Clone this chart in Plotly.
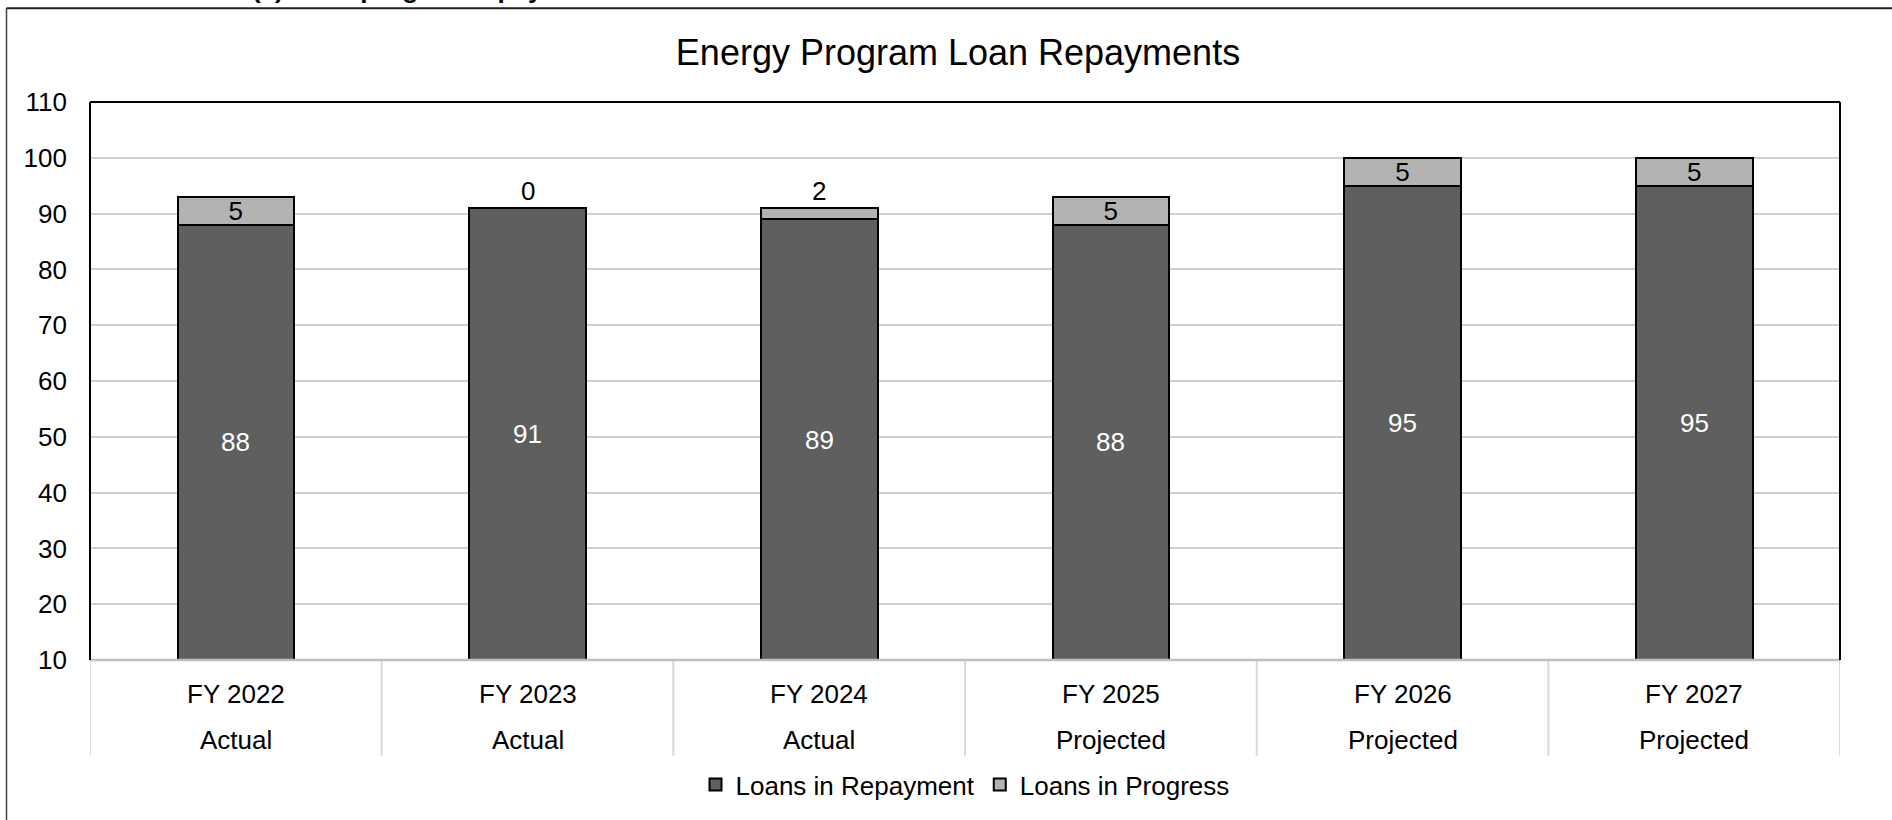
import plotly.graph_objects as go

# ---- data ----
fiscal_years = ["FY 2022", "FY 2023", "FY 2024", "FY 2025", "FY 2026", "FY 2027"]
status = ["Actual", "Actual", "Actual", "Projected", "Projected", "Projected"]
loans_in_repayment = [88, 91, 89, 88, 95, 95]
loans_in_progress = [5, 0, 2, 5, 5, 5]
y_ticks = [10, 20, 30, 40, 50, 60, 70, 80, 90, 100, 110]

W, H = 1892, 820
L, R, T, B = 90, 1840, 102, 662
FONT = "Liberation Sans, Arial, sans-serif"
Y_MIN, Y_MAX = y_ticks[0], y_ticks[-1]


def px_to_paper_y(py):
    return (B - py) / (B - T)


def px_to_paper_x(px):
    return (px - L) / (R - L)


fig = go.Figure()
fig.add_trace(go.Bar(
    x=fiscal_years, y=loans_in_repayment, name="Loans in Repayment",
    marker=dict(color="#5f5f5f", line=dict(color="#000000", width=2)),
    width=0.4, hoverinfo="x+y+name",
))
fig.add_trace(go.Bar(
    x=fiscal_years, y=loans_in_progress, name="Loans in Progress",
    marker=dict(color="#b3b3b3", line=dict(color="#000000", width=2)),
    text=[str(v) if v >= 3 else "" for v in loans_in_progress], textposition="inside",
    insidetextanchor="middle", textangle=0, constraintext="none",
    insidetextfont=dict(color="#000000", size=26, family=FONT),
    width=0.4, hoverinfo="x+y+name",
))

annotations = []
# labels of the lower segment, centred on the visible part of the bar
for fy, rep in zip(fiscal_years, loans_in_repayment):
    annotations.append(dict(x=fy, y=(Y_MIN + rep) / 2, xref="x", yref="y", text=str(rep),
                            showarrow=False, yanchor="middle",
                            font=dict(size=26, color="#ffffff", family=FONT)))
# labels for small top segments, placed above the bar
for fy, rep, prog in zip(fiscal_years, loans_in_repayment, loans_in_progress):
    if prog < 3:
        annotations.append(dict(x=fy, y=rep + prog, xref="x", yref="y", text=str(prog),
                                showarrow=False, yanchor="bottom", yshift=0,
                                font=dict(size=26, color="#000000", family=FONT)))
# two-row category labels
for fy, st in zip(fiscal_years, status):
    annotations.append(dict(x=fy, y=px_to_paper_y(696), xref="x", yref="paper", text=fy,
                            showarrow=False, yanchor="middle",
                            font=dict(size=26, color="#000000", family=FONT)))
    annotations.append(dict(x=fy, y=px_to_paper_y(742), xref="x", yref="paper", text=st,
                            showarrow=False, yanchor="middle",
                            font=dict(size=26, color="#000000", family=FONT)))
# clipped heading above the chart frame (only its lowest pixels show, as in the source)
annotations.append(dict(x=px_to_paper_x(250), y=px_to_paper_y(-11), xref="paper", yref="paper",
                        text="<b>(c) Loan program repayments</b>", showarrow=False,
                        xanchor="left", yanchor="middle",
                        font=dict(size=26, color="#000000", family=FONT)))

shapes = []
# category separators below the axis
n = len(fiscal_years)
for i in range(n + 1):
    shapes.append(dict(type="line", xref="x", yref="paper", x0=i - 0.5, x1=i - 0.5,
                       y0=0, y1=px_to_paper_y(758), line=dict(color="#d9d9d9", width=2)))
# bottom axis line (gray)
shapes.append(dict(type="line", xref="paper", yref="paper", x0=0, x1=1, y0=0, y1=0,
                   line=dict(color="#bfbfbf", width=2.5)))
# plot frame: left, top, right in black
shapes.append(dict(type="line", xref="paper", yref="paper", x0=0, x1=0, y0=0, y1=1,
                   line=dict(color="#000000", width=2)))
shapes.append(dict(type="line", xref="paper", yref="paper", x0=0, x1=1, y0=1, y1=1,
                   line=dict(color="#000000", width=2)))
shapes.append(dict(type="line", xref="paper", yref="paper", x0=1, x1=1, y0=0, y1=1,
                   line=dict(color="#000000", width=2)))
# outer chart border (extends beyond the view on right/bottom)
shapes.append(dict(type="line", xref="paper", yref="paper",
                   x0=px_to_paper_x(6.5), x1=px_to_paper_x(6.5),
                   y0=px_to_paper_y(8), y1=px_to_paper_y(900),
                   line=dict(color="#404040", width=1.5)))
shapes.append(dict(type="line", xref="paper", yref="paper",
                   x0=px_to_paper_x(6.5), x1=px_to_paper_x(2000),
                   y0=px_to_paper_y(8), y1=px_to_paper_y(8),
                   line=dict(color="#202020", width=2)))

fig.update_layout(
    width=W, height=H,
    margin=dict(l=L, r=W - R, t=T, b=H - B, pad=0),
    barmode="stack",
    plot_bgcolor="#ffffff", paper_bgcolor="#ffffff",
    font=dict(family=FONT, size=26, color="#000000"),
    title=dict(text="Energy Program Loan Repayments", x=px_to_paper_x(958), xref="paper",
               xanchor="center", y=1 - 52 / H, yref="container", yanchor="middle",
               font=dict(size=36, color="#000000", family=FONT)),
    xaxis=dict(showticklabels=False, showgrid=False, zeroline=False, showline=False,
               ticks="", range=[-0.5, n - 0.5], fixedrange=True),
    yaxis=dict(range=[Y_MIN, Y_MAX], tickvals=y_ticks, ticktext=[str(v) for v in y_ticks],
               showgrid=True, gridcolor="#d0d0d0", gridwidth=2, zeroline=False,
               showline=False, ticks="", ticklabelstandoff=22,
               tickfont=dict(size=26, color="#000000", family=FONT), fixedrange=True),
    legend=dict(orientation="h", x=0.5, xanchor="center", y=px_to_paper_y(787),
                yanchor="middle", font=dict(size=26, color="#000000", family=FONT),
                bgcolor="rgba(0,0,0,0)", itemwidth=30, traceorder="normal"),
    annotations=annotations,
    shapes=shapes,
    bargap=0.6,
)

fig.write_html("out.html", config={"displayModeBar": False},
               post_script="document.body.style.margin='0';")
